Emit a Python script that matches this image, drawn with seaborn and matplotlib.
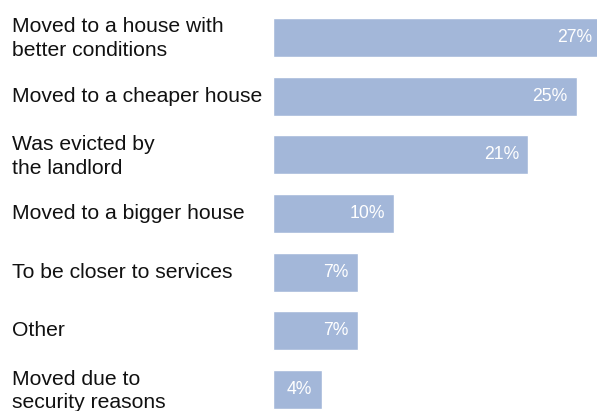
import matplotlib
matplotlib.use("Agg")
import matplotlib.pyplot as plt
import seaborn as sns
import pandas as pd

# Reasons for moving and share of respondents (%)
reasons = [
    "Moved to a house with\nbetter conditions",
    "Moved to a cheaper house",
    "Was evicted by\nthe landlord",
    "Moved to a bigger house",
    "To be closer to services",
    "Other",
    "Moved due to\nsecurity reasons",
]
shares = [27, 25, 21, 10, 7, 7, 4]
value_labels = ["27%", "25%", "21%", "10%", "7%", "7%", "4%"]

df = pd.DataFrame({"reason": reasons, "share": shares})

sns.set_theme(style="white")
plt.rcParams["font.family"] = ["Liberation Sans", "DejaVu Sans"]

W, H = 597, 411
fig = plt.figure(figsize=(W / 100, H / 100), dpi=100)
left = 273 / W
ax = fig.add_axes([left, 0, 1 - left, 1])

sns.barplot(data=df, y="reason", x="share", orient="h", color="#a3b7d9",
            saturation=1, width=0.665, ax=ax)

ax.set_xlim(0, 26.67)
ax.set_ylim(6.366, -0.639)
ax.set_axis_off()

# percentage labels inside the bar ends
for i, (v, lab) in enumerate(zip(shares, value_labels)):
    ax.text(v - 0.75, i, lab, ha="right", va="center", color="white",
            fontsize=12.7, clip_on=False)

# category labels at the left edge of the figure
trans = matplotlib.transforms.blended_transform_factory(fig.transFigure, ax.transData)
for i, r in enumerate(reasons):
    two_line = "\n" in r
    ax.text(12 / W, i + (0.025 if two_line else 0.0), r, transform=trans,
            ha="left", va="center", fontsize=15.2, color="#111111",
            linespacing=1.33, clip_on=False)

fig.savefig("out.png", dpi=100)
